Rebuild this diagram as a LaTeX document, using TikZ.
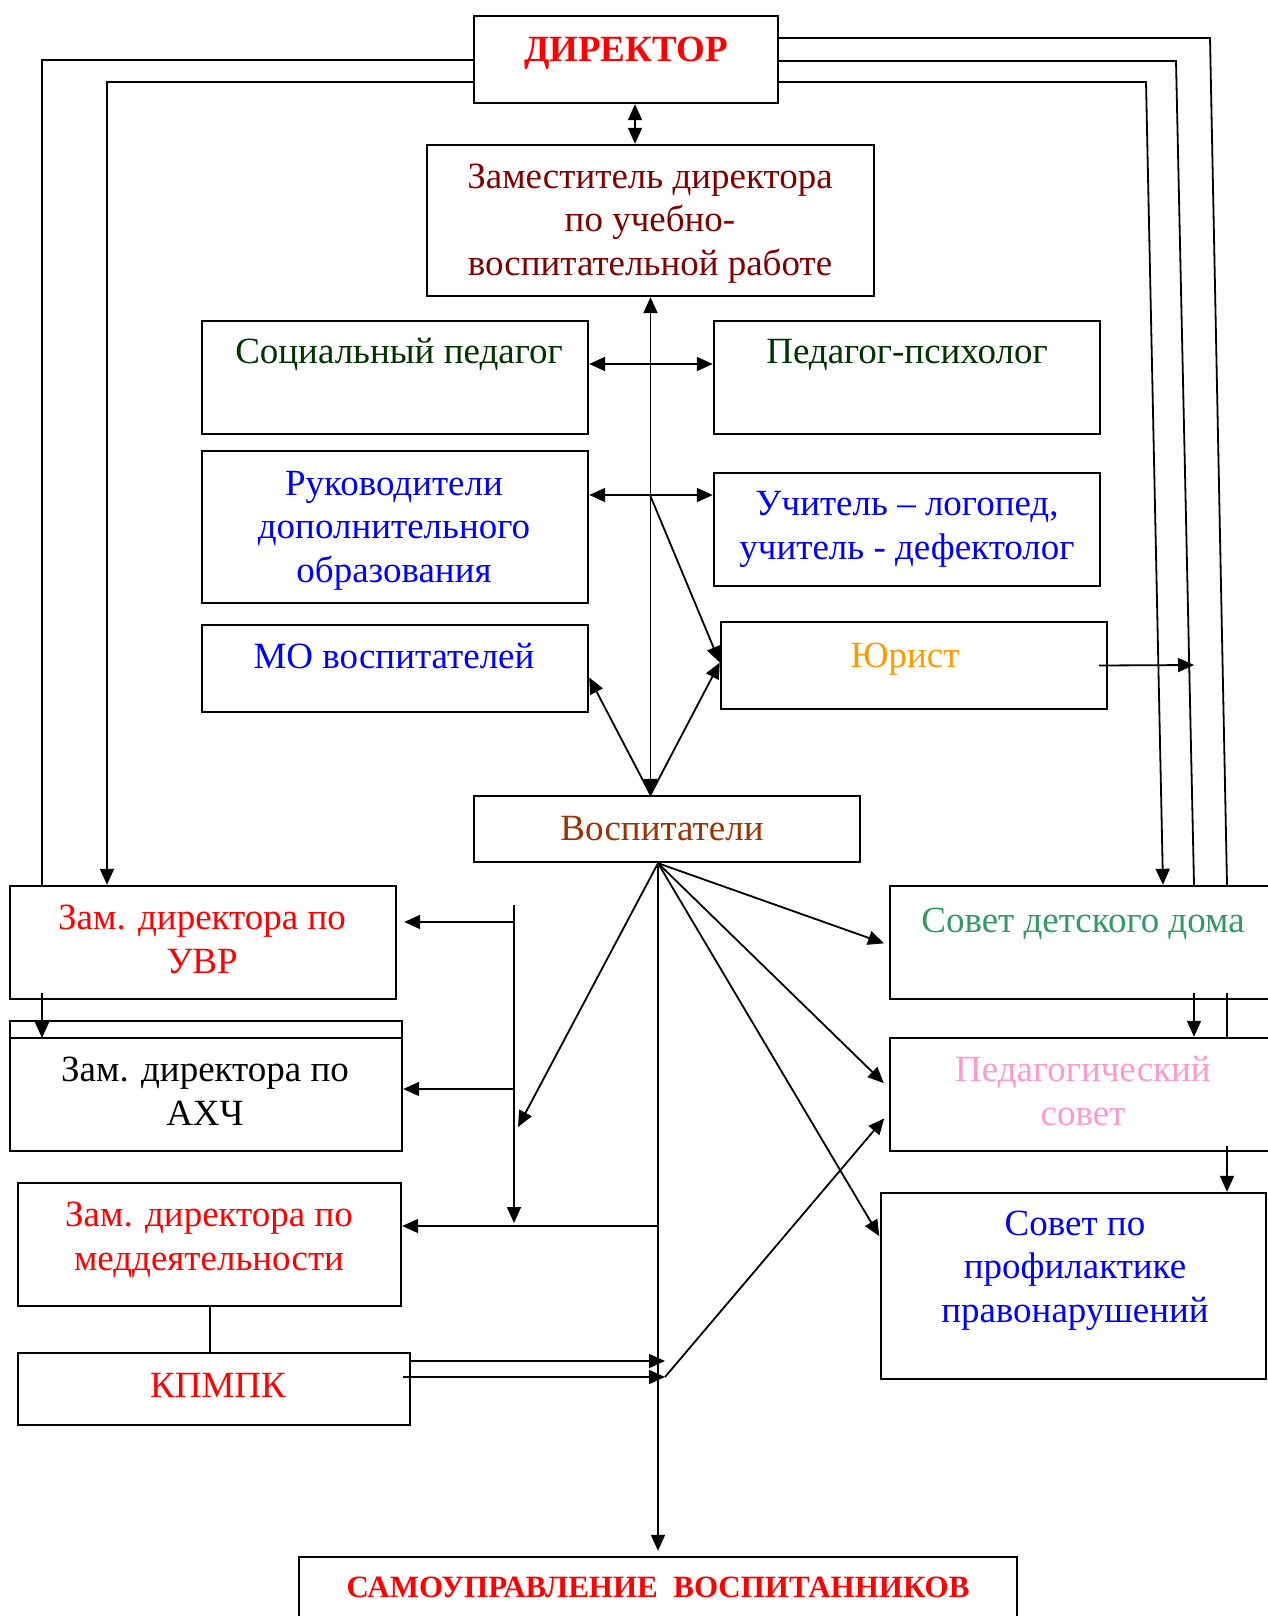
\documentclass[tikz,border=0pt]{standalone}
\usepackage{fontspec}
\setmainfont{Liberation Serif}
\usetikzlibrary{arrows.meta,fit,calc}
\definecolor{cMaroon}{RGB}{128,0,0}
\definecolor{cDkGreen}{RGB}{0,51,0}
\definecolor{cOrange}{RGB}{255,153,0}
\definecolor{cBrown}{RGB}{153,51,0}
\definecolor{cSea}{RGB}{51,153,102}
\definecolor{cPink}{RGB}{255,153,204}
\begin{document}
\begin{tikzpicture}[x=1pt,y=-1pt,
  box/.style={draw, line width=2.4pt, inner sep=0pt},
  lbl/.style={anchor=base, align=center, inner sep=0pt, font=\fontsize{37}{43.5}\selectfont},
  blbl/.style={anchor=base, align=center, inner sep=0pt, font=\bfseries\fontsize{37}{43}\selectfont},
  slbl/.style={anchor=base, align=center, inner sep=0pt, font=\bfseries\fontsize{31}{36}\selectfont},
  conn/.style={line width=1.8pt},
  tip/.tip={Triangle[length=16pt,width=14pt]},
  arr/.style={conn, -tip},
  darr/.style={conn, tip-tip},
]
\useasboundingbox (0,0) rectangle (1268,1616);

% ---------- boxes ----------
\node[box, fit={(474,16) (778,103)}] (dir) {};
\node[box, fit={(427,145) (874,296)}] (zam) {};
\node[box, fit={(202,321) (588,434)}] (soc) {};
\node[box, fit={(714,321) (1100,434)}] (psy) {};
\node[box, fit={(202,451) (588,603)}] (ruk) {};
\node[box, fit={(714,473) (1100,586)}] (uch) {};
\node[box, fit={(202,625) (588,712)}] (mo) {};
\node[box, fit={(721,622) (1107,709)}] (yur) {};
\node[box, fit={(474,796) (860,862)}] (vos) {};
\node[box, fit={(10,886) (396,999)}] (uvr) {};
\node[box, fit={(10,1021) (402,1151)}] (axc) {};
\draw[line width=2.4pt] (axc.west |- 0,1038) -- (axc.east |- 0,1038);
\node[box, fit={(18,1183) (401,1306)}] (med) {};
\node[box, fit={(18,1353) (410,1425)}] (kpm) {};
\node[box, fit={(890,886) (1290,999)}] (sdd) {};
\node[box, fit={(890,1038) (1290,1151)}] (ped) {};
\node[box, fit={(881,1193) (1266,1379)}] (spr) {};
\node[box, fit={(299,1557) (1017,1640)}] (sam) {};

% ---------- texts (base = last line baseline) ----------
\node[blbl, text=red] (tdir) at (626,62) {ДИРЕКТОР};
\node[lbl, text=cMaroon] (tzam) at (650,275) {Заместитель директора\\по учебно-\\воспитательной работе};
\node[lbl, text=cDkGreen] (tsoc) at (399,363) {Социальный педагог};
\node[lbl, text=cDkGreen] (tpsy) at (907,363) {Педагог-психолог};
\node[lbl, text=blue] (truk) at (394,582) {Руководители\\дополнительного\\образования};
\node[lbl, text=blue] (tuch) at (907,559) {Учитель – логопед,\\учитель - дефектолог};
\node[lbl, text=blue] (tmo) at (394,668) {МО воспитателей};
\node[lbl, text=cOrange] (tyur) at (905,667) {Юрист};
\node[lbl, text=cBrown] (tvos) at (662,840) {Воспитатели};
\node[lbl, text=red] (tuvr) at (202,973) {Зам. директора по\\УВР};
\node[lbl, text=black] (taxc) at (205,1125) {Зам. директора по\\АХЧ};
\node[lbl, text=red] (tmed) at (209,1270) {Зам. директора по\\меддеятельности};
\node[lbl, text=red] (tkpm) at (218,1397) {КПМПК};
\node[lbl, text=cSea] (tsdd) at (1083,932) {Совет детского дома};
\node[lbl, text=cPink] (tped) at (1083,1125) {Педагогический\\совет};
\node[lbl, text=blue] (tspr) at (1075,1322) {Совет по\\профилактике\\правонарушений};
\node[slbl, text=red] (tsam) at (658,1597) {САМОУПРАВЛЕНИЕ\ \ ВОСПИТАННИКОВ};

% ---------- connectors ----------
% director <-> deputy
\draw[darr] ([xshift=9pt]dir.south) -- ([xshift=9pt]dir.south |- zam.north);
% director left lines
\draw[conn] (dir.west |- 0,60) -- (42,60) -- (uvr.north -| 42,0);
\draw[arr] (dir.west |- 0,82) -- (107,82) -- (uvr.north -| 107,0);
% director right lines
\draw[conn] (dir.east |- 0,38) -- (1210,38) -- (sdd.north -| 1227,0);
\draw[conn] (dir.east |- 0,61) -- (1176,61) -- (sdd.north -| 1194,0);
\draw[arr] (dir.east |- 0,82) -- (1146,82) -- (sdd.north -| 1163,0);
\draw[arr] (1194,993) -- (ped.north -| 1194,0);
\draw[conn] (1227,993) -- (ped.north -| 1227,0);
\draw[arr] (1227,1146) -- (spr.north -| 1227,0);
% central axis deputy <-> educators
\coordinate (vtop) at (zam.south |- vos.north);
\draw[darr] (zam.south) -- (vtop);
\coordinate (h1) at (650,364);
\coordinate (h2) at (650,495);
\draw[darr] (soc.east |- h1) -- (psy.west |- h1);
\draw[darr] (ruk.east |- h2) -- (uch.west |- h2);
\draw[arr] (h2) -- ([yshift=3pt]yur.west);
\draw[arr] (vtop) -- ([yshift=3pt]yur.west);
\draw[arr] (vtop) -- ([yshift=-9pt]mo.east);
% lawyer
\draw[arr] ([xshift=-9pt]yur.east) -- (1194,665);
% from educators bottom
\coordinate (vb) at ([xshift=-9pt]vos.south);
\draw[arr, shorten >=5pt] (vb) -- (sam.north -| vb);
\draw[arr, shorten >=5pt] (vb) -- (sdd.west |- 0,945);
\draw[arr, shorten >=7pt] (vb) -- (ped.west |- 0,1088);
\draw[arr, shorten >=1pt] (vb) -- (spr.west |- 0,1237);
\coordinate (lvd) at (518,1127);
\draw[arr] (vb) -- (lvd);
% left distribution line
\coordinate (lv1) at (514,905);
\coordinate (lv2) at (514,1223);
\draw[arr] (lv1) -- (lv2);
\draw[arr, shorten >=7pt] (lv1 |- 0,922) -- (uvr.east |- 0,922);
\draw[arr] (lv1 |- 0,1089) -- (axc.east |- 0,1089);
\draw[arr] (vb |- 0,1226) -- (med.east |- 0,1226);
% deputy UVR -> AHCh
\draw[arr] (42,993) -- (42,1038);
% med -> KPMPK
\draw[conn] (med.south -| 210,0) -- (kpm.north -| 210,0);
% KPMPK arrows
\coordinate (k1) at (665,1361);
\coordinate (k2) at (665,1377);
\draw[arr] (kpm.east |- k1) -- (k1);
\draw[arr, shorten <=-8pt] (kpm.east |- k2) -- (k2);
\draw[arr, shorten >=7pt] (k2) -- (ped.west |- 0,1113);
\end{tikzpicture}
\end{document}
